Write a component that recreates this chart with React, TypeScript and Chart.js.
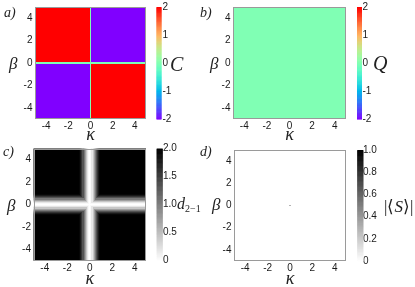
import React, { useEffect, useRef } from 'react';
import { Chart, registerables } from 'chart.js';
Chart.register(...registerables);

// ---------- data ----------
const AXIS_MIN = -5;
const AXIS_MAX = 5;
const AXIS_TICKS = [-4, -2, 0, 2, 4];
const GRID_STEP = 0.1;
const GRID = Array.from({ length: 101 }, (_, i) => Math.round((AXIS_MIN + i * GRID_STEP) * 10) / 10);

// C: value per quadrant [top-left, top-right, bottom-left, bottom-right], and on the axes
const C_QUADRANTS = [2, -2, -2, 2];
const C_ON_AXES = 0;
// Q: flat level
const Q_LEVEL = 0;
// d_{2-1}: value vs |coordinate| at 0, 0.1, ..., 1.0; beyond that it is D_OUTSIDE
const D_PROFILE = [0, 0.05, 0.2, 0.45, 0.75, 1.05, 1.35, 1.6, 1.8, 1.95, 2];
const D_OUTSIDE = 2;
// |<S>|: flat level and a few faint spots
const S_LEVEL = 0;
const S_SPOTS = [
  { x: 0, y: 0, v: 0.3 },
  { x: 0, y: 5, v: 0.25 },
];

const CB_TICKS_CQ = [-2, -1, 0, 1, 2];
const CB_TICKS_D = [0, 0.5, 1, 1.5, 2];
const CB_TICKS_S = [0, 0.2, 0.4, 0.6, 0.8, 1];

// ---------- grids ----------
type Cell = { x: number; y: number; v: number };
const buildCells = (fn: (x: number, y: number) => number): Cell[] =>
  GRID.flatMap((y) => GRID.map((x) => ({ x, y, v: fn(x, y) })));

const C_CELLS = buildCells((x, y) => {
  if (x === 0 || y === 0) return C_ON_AXES;
  const idx = (y > 0 ? 0 : 2) + (x > 0 ? 1 : 0);
  return C_QUADRANTS[idx];
});
const Q_CELLS = buildCells(() => Q_LEVEL);
const dAt = (a: number) => {
  const i = Math.round(Math.abs(a) * 10);
  return i < D_PROFILE.length ? D_PROFILE[i] : D_OUTSIDE;
};
const D_CELLS = buildCells((x, y) => Math.min(dAt(x), dAt(y)));
const S_CELLS = buildCells((x, y) => {
  const s = S_SPOTS.find((p) => p.x === x && p.y === y);
  return s ? s.v : S_LEVEL;
});

// ---------- colour maps ----------
const clamp = (v: number) => Math.max(0, Math.min(1, v));
const rainbow = (t: number) => {
  const r = clamp(Math.abs(2 * t - 0.5));
  const g = clamp(Math.sin(Math.PI * t));
  const b = clamp(Math.cos((Math.PI * t) / 2));
  return `rgb(${Math.round(r * 255)},${Math.round(g * 255)},${Math.round(b * 255)})`;
};
const grayRev = (t: number) => {
  const g = Math.round((1 - clamp(t)) * 255);
  return `rgb(${g},${g},${g})`;
};

const TICK_FONT = { family: 'Liberation Sans, Arial, sans-serif', size: 10, lineHeight: 1.2 };
const TICK_COLOR = '#1a1a1a';

type PanelSpec = {
  key: string;
  canvas: { left: number; top: number; width: number; height: number };
  area: { l: number; t: number; r: number; b: number };
  cells: Cell[];
  cmap: (t: number) => string;
  vmin: number;
  vmax: number;
  cbTicks: number[];
  cbFmt: (v: number) => string;
  cbOffset: number;
  cbWidth: number;
  cbPad: number;
};

const intFmt = (v: number) => String(v);
const decFmt = (v: number) => (v === 0 ? '0' : v.toFixed(1));

const PANELS: PanelSpec[] = [
  {
    key: 'a', canvas: { left: 0, top: 0, width: 207, height: 143 },
    area: { l: 35, t: 7, r: 146, b: 119 }, cells: C_CELLS, cmap: rainbow,
    vmin: -2, vmax: 2, cbTicks: CB_TICKS_CQ, cbFmt: intFmt, cbOffset: 10.5, cbWidth: 5, cbPad: 16.5,
  },
  {
    key: 'b', canvas: { left: 207, top: 0, width: 208, height: 143 },
    area: { l: 233, t: 7, r: 346, b: 119 }, cells: Q_CELLS, cmap: rainbow,
    vmin: -2, vmax: 2, cbTicks: CB_TICKS_CQ, cbFmt: intFmt, cbOffset: 11, cbWidth: 5, cbPad: 16.5,
  },
  {
    key: 'c', canvas: { left: 0, top: 143, width: 207, height: 144 },
    area: { l: 33.5, t: 148.5, r: 146, b: 260.7 }, cells: D_CELLS, cmap: grayRev,
    vmin: 0, vmax: 2, cbTicks: CB_TICKS_D, cbFmt: decFmt, cbOffset: 10.7, cbWidth: 6, cbPad: 17,
  },
  {
    key: 'd', canvas: { left: 207, top: 143, width: 208, height: 144 },
    area: { l: 234, t: 150, r: 346, b: 261 }, cells: S_CELLS, cmap: grayRev,
    vmin: 0, vmax: 1, cbTicks: CB_TICKS_S, cbFmt: decFmt, cbOffset: 11.3, cbWidth: 6, cbPad: 17,
  },
];

function Panel({ spec }: { spec: PanelSpec }) {
  const ref = useRef<HTMLCanvasElement | null>(null);
  useEffect(() => {
    const canvas = ref.current;
    if (!canvas) return;
    const { canvas: cv, area } = spec;
    const yW = area.l - cv.left;
    const padTop = area.t - cv.top;
    const cbW = cv.left + cv.width - area.r;
    const xH = cv.top + cv.height - area.b;
    const half = GRID_STEP / 2;

    const heatmap = {
      id: 'heatmap',
      beforeDatasetsDraw(chart: any) {
        const ctx = chart.ctx as CanvasRenderingContext2D;
        const xs = chart.scales.x;
        const ys = chart.scales.y;
        const cb = chart.scales.cb;
        const ca = chart.chartArea;
        const data = chart.data.datasets[0].data as Cell[];
        const norm = (v: number) => (v - spec.vmin) / (spec.vmax - spec.vmin);
        ctx.save();
        ctx.beginPath();
        ctx.rect(ca.left, ca.top, ca.right - ca.left, ca.bottom - ca.top);
        ctx.clip();
        for (const c of data) {
          const x0 = Math.round(xs.getPixelForValue(c.x - half));
          const x1 = Math.round(xs.getPixelForValue(c.x + half));
          const y0 = Math.round(ys.getPixelForValue(c.y + half));
          const y1 = Math.round(ys.getPixelForValue(c.y - half));
          if (x1 <= x0 || y1 <= y0) continue;
          ctx.fillStyle = spec.cmap(norm(c.v));
          ctx.fillRect(x0, y0, x1 - x0, y1 - y0);
        }
        ctx.restore();
        // frame
        ctx.save();
        ctx.strokeStyle = '#9a9a9a';
        ctx.lineWidth = 1;
        ctx.strokeRect(
          Math.round(ca.left) + 0.5, Math.round(ca.top) + 0.5,
          Math.round(ca.right) - Math.round(ca.left) - 1, Math.round(ca.bottom) - Math.round(ca.top) - 1
        );
        ctx.restore();
        // colour bar
        const N = 200;
        const bx = ca.right + spec.cbOffset;
        ctx.save();
        for (let i = 0; i < N; i++) {
          const v0 = spec.vmin + ((spec.vmax - spec.vmin) * i) / N;
          const v1 = spec.vmin + ((spec.vmax - spec.vmin) * (i + 1)) / N;
          const py0 = cb.getPixelForValue(v1);
          const py1 = cb.getPixelForValue(v0);
          ctx.fillStyle = spec.cmap(norm((v0 + v1) / 2));
          ctx.fillRect(bx, py0, spec.cbWidth, py1 - py0 + 0.6);
        }
        ctx.restore();
      },
    };

    const fixedTicks = (vals: number[]) => (s: any) => {
      s.ticks = vals.map((v) => ({ value: v }));
    };

    const chart = new Chart(canvas, {
      type: 'scatter',
      data: {
        datasets: [
          { data: spec.cells as any, pointRadius: 0, pointHoverRadius: 0, showLine: false, borderWidth: 0 },
        ],
      },
      options: {
        responsive: false,
        animation: false,
        events: [],
        layout: { padding: { left: 0, top: padTop, right: 0, bottom: 0 }, autoPadding: false },
        plugins: { legend: { display: false }, tooltip: { enabled: false } },
        scales: {
          x: {
            type: 'linear', position: 'bottom', min: AXIS_MIN, max: AXIS_MAX,
            afterBuildTicks: fixedTicks(AXIS_TICKS),
            afterFit: (s: any) => { s.height = xH; s.paddingLeft = 0; s.paddingRight = 0; },
            grid: { display: false, drawTicks: false },
            border: { display: false },
            ticks: { autoSkip: false, maxRotation: 0, font: TICK_FONT, color: TICK_COLOR, padding: 1.5 },
            title: {
              display: true, text: 'κ', color: '#222',
              font: { family: 'Liberation Serif, serif', style: 'italic', size: 18, lineHeight: 1 },
              padding: { top: 0, bottom: -1 },
            },
          },
          y: {
            type: 'linear', position: 'left', min: AXIS_MIN, max: AXIS_MAX,
            afterBuildTicks: fixedTicks(AXIS_TICKS),
            afterFit: (s: any) => { s.width = yW; s.paddingTop = 0; s.paddingBottom = 0; },
            grid: { display: false, drawTicks: false },
            border: { display: false },
            ticks: { autoSkip: false, font: TICK_FONT, color: TICK_COLOR, padding: 2.5 },
          },
          cb: {
            type: 'linear', position: 'right', min: spec.vmin, max: spec.vmax,
            afterBuildTicks: fixedTicks(spec.cbTicks),
            afterFit: (s: any) => { s.width = cbW; s.paddingTop = 0; s.paddingBottom = 0; },
            grid: { display: false, drawTicks: false },
            border: { display: false },
            ticks: { autoSkip: false, font: TICK_FONT, color: TICK_COLOR, padding: spec.cbPad, callback: (v: any) => spec.cbFmt(Number(v)) },
          },
        },
      },
      plugins: [heatmap],
    } as any);
    return () => chart.destroy();
  }, [spec]);
  const { canvas: cv } = spec;
  return (
    <canvas
      ref={ref}
      width={cv.width}
      height={cv.height}
      style={{ position: 'absolute', left: cv.left, top: cv.top, width: cv.width, height: cv.height, display: 'block' }}
    />
  );
}

function Label({ x, y, size, children }: { x: number; y: number; size: number; children: React.ReactNode }) {
  return (
    <span
      style={{
        position: 'absolute', left: x, top: y, transform: 'translateY(-50%)',
        fontFamily: 'Liberation Serif, serif', fontStyle: 'italic', fontSize: size,
        lineHeight: 1, whiteSpace: 'nowrap', color: '#222',
      }}
    >
      {children}
    </span>
  );
}

export default function App() {
  return (
    <div style={{ position: 'absolute', left: 0, top: 0, width: 415, height: 287, background: '#fff', overflow: 'hidden' }}>
      {PANELS.map((p) => (
        <Panel key={p.key} spec={p} />
      ))}
      <Label x={4} y={13} size={14}>a)</Label>
      <Label x={200} y={13} size={14}>b)</Label>
      <Label x={3} y={152} size={14}>c)</Label>
      <Label x={200} y={152} size={14}>d)</Label>

      <Label x={9} y={63} size={17}>β</Label>
      <Label x={210} y={63} size={17}>β</Label>
      <Label x={7} y={205} size={17}>β</Label>
      <Label x={212} y={204} size={17}>β</Label>

      <Label x={170} y={64} size={20}>C</Label>
      <Label x={373} y={63} size={20}>Q</Label>
      <Label x={177} y={205} size={16}>
        d<sub style={{ fontSize: 10, fontStyle: 'normal', verticalAlign: '-3px' }}>2−1</sub>
      </Label>
      <Label x={384} y={206} size={17}>
        <span style={{ fontStyle: 'normal' }}>|⟨</span>S<span style={{ fontStyle: 'normal' }}>⟩|</span>
      </Label>
    </div>
  );
}
